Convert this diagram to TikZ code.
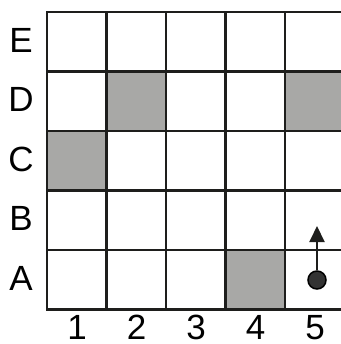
\documentclass[tikz,border=0pt]{standalone}
\usepackage{fontspec}
\setmainfont{Liberation Sans}
\usepackage{xcolor}
\usetikzlibrary{arrows.meta}
\definecolor{cellgray}{HTML}{A8A8A6}
\definecolor{linegray}{HTML}{1E1E1C}

\begin{document}
\begin{tikzpicture}[x=1pt, y=-1pt,
    gridline/.style={line width=2.6pt, draw=linegray, line cap=rect},
    lab/.style={font=\fontsize{35}{40}\selectfont, inner sep=0pt}]
    \useasboundingbox (0,0) rectangle (340,344);
    % Shaded cells (column/row, row 0 = E)
    \foreach \c/\r in {2/1, 5/1, 1/2, 4/4}
        \fill[cellgray] ({47+59.5*(\c-1)},{12+59.5*\r}) rectangle +(59.5,59.5);
    % Grid
    \foreach \i in {0,...,5} {
        \draw[gridline] ({47+59.5*\i},12) -- ({47+59.5*\i},309.5);
        \draw[gridline] (47,{12+59.5*\i}) -- (344.5,{12+59.5*\i});
    }
    % Row letters
    \foreach \l [count=\j from 0] in {E,D,C,B,A}
        \node[lab] (row\l) at (21,{40+59.5*\j}) {\l};
    % Column numbers
    \foreach \n in {1,...,5}
        \node[lab, anchor=north] (col\n) at ({77+59.5*(\n-1)},315) {\n};
    % Token in A5 and its move
    \node[circle, draw=black, line width=1.5pt, fill=black!80, minimum size=18pt, inner sep=0pt] (token) at (317,280) {};
    \coordinate (tip) at (317,226);
    \draw[-{Triangle[length=16pt, width=15pt]}, line width=2pt, linegray] (token) -- (tip);
\end{tikzpicture}
\end{document}
